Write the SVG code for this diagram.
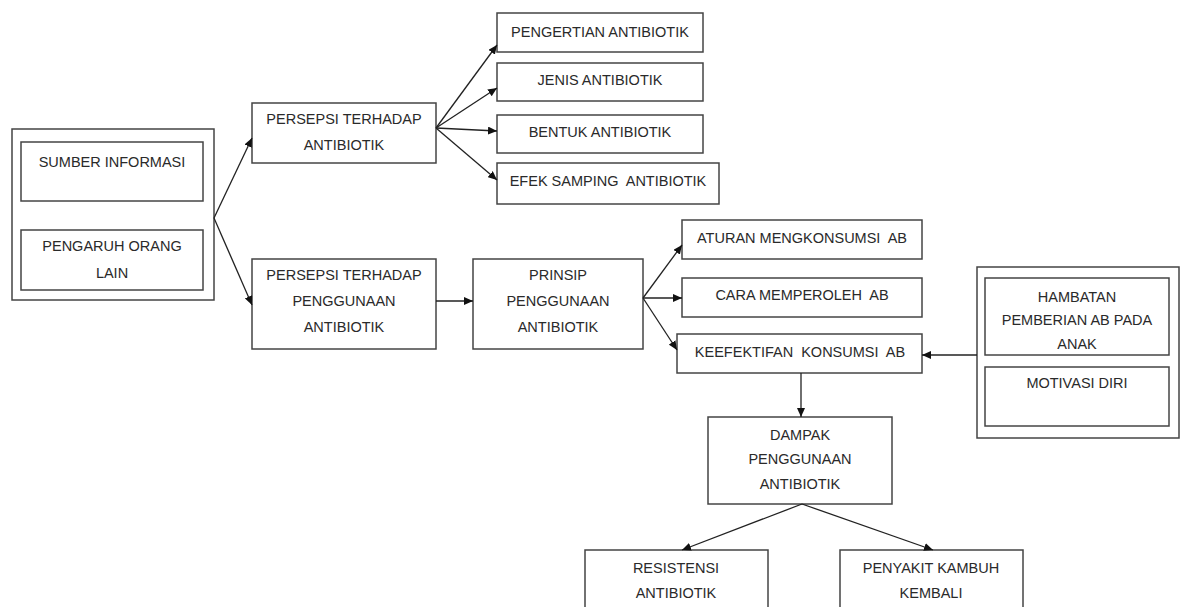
<svg xmlns="http://www.w3.org/2000/svg" width="1184" height="607" viewBox="0 0 1184 607">
<style>
.box{fill:#fff;stroke:#444;stroke-width:1.5}
.t{font-family:"Liberation Sans",Arial,sans-serif;font-size:14.5px;fill:#2a2a2a;text-anchor:middle;white-space:pre}
.c{stroke:#222;stroke-width:1.3;fill:none;marker-end:url(#ah)}
</style>
<defs>
<marker id="ah" markerUnits="userSpaceOnUse" markerWidth="10" markerHeight="8" refX="9" refY="4" orient="auto">
<path d="M0,0 L9,4 L0,8 Z" fill="#111"/>
</marker>
</defs>
<rect width="1184" height="607" fill="#fff"/>
<g id="sources">
<rect class="box" x="12" y="129" width="202" height="171"/>
<g id="sumber"><rect class="box" x="21" y="142" width="182" height="59"/><text class="t" x="112" y="167">SUMBER INFORMASI</text></g>
<g id="pengaruh"><rect class="box" x="21" y="230" width="182" height="60"/><text class="t" x="112" y="251">PENGARUH ORANG</text><text class="t" x="112" y="278">LAIN</text></g>
</g>
<g id="persepsi-ab"><rect class="box" x="252" y="103" width="184" height="60"/><text class="t" x="344" y="124">PERSEPSI TERHADAP</text><text class="t" x="344" y="150">ANTIBIOTIK</text></g>
<g id="pengertian"><rect class="box" x="497" y="13" width="206" height="39"/><text class="t" x="600" y="37">PENGERTIAN ANTIBIOTIK</text></g>
<g id="jenis"><rect class="box" x="497" y="63" width="206" height="38"/><text class="t" x="600" y="85">JENIS ANTIBIOTIK</text></g>
<g id="bentuk"><rect class="box" x="497" y="115" width="206" height="38"/><text class="t" x="600" y="137">BENTUK ANTIBIOTIK</text></g>
<g id="efek"><rect class="box" x="497" y="163" width="222" height="41"/><text class="t" x="608" y="186">EFEK SAMPING  ANTIBIOTIK</text></g>
<g id="persepsi-penggunaan"><rect class="box" x="252" y="259" width="184" height="90"/><text class="t" x="344" y="280">PERSEPSI TERHADAP</text><text class="t" x="344" y="306">PENGGUNAAN</text><text class="t" x="344" y="332">ANTIBIOTIK</text></g>
<g id="prinsip"><rect class="box" x="473" y="259" width="170" height="90"/><text class="t" x="558" y="280">PRINSIP</text><text class="t" x="558" y="306">PENGGUNAAN</text><text class="t" x="558" y="332">ANTIBIOTIK</text></g>
<g id="aturan"><rect class="box" x="682" y="220" width="240" height="39"/><text class="t" x="802" y="243">ATURAN MENGKONSUMSI  AB</text></g>
<g id="cara"><rect class="box" x="682" y="278" width="240" height="39"/><text class="t" x="802" y="300">CARA MEMPEROLEH  AB</text></g>
<g id="keefektifan"><rect class="box" x="677" y="334" width="245" height="39"/><text class="t" x="800" y="357">KEEFEKTIFAN  KONSUMSI  AB</text></g>
<g id="factors">
<rect class="box" x="977" y="267" width="202" height="171"/>
<g id="hambatan"><rect class="box" x="985" y="278" width="184" height="77"/><text class="t" x="1077" y="302">HAMBATAN</text><text class="t" x="1077" y="325">PEMBERIAN AB PADA</text><text class="t" x="1077" y="349">ANAK</text></g>
<g id="motivasi"><rect class="box" x="985" y="367" width="184" height="59"/><text class="t" x="1077" y="388">MOTIVASI DIRI</text></g>
</g>
<g id="dampak"><rect class="box" x="708" y="417" width="184" height="87"/><text class="t" x="800" y="440">DAMPAK</text><text class="t" x="800" y="464">PENGGUNAAN</text><text class="t" x="800" y="489">ANTIBIOTIK</text></g>
<g id="resistensi"><rect class="box" x="585" y="550" width="183" height="70"/><text class="t" x="676" y="573">RESISTENSI</text><text class="t" x="676" y="598">ANTIBIOTIK</text></g>
<g id="penyakit"><rect class="box" x="840" y="550" width="183" height="70"/><text class="t" x="931" y="573">PENYAKIT KAMBUH</text><text class="t" x="931" y="598">KEMBALI</text></g>
<g id="connectors">
<path class="c" d="M214,218 L252,138"/>
<path class="c" d="M214,218 L252,305"/>
<path class="c" d="M436,128 L497,45"/>
<path class="c" d="M436,128 L497,88"/>
<path class="c" d="M436,128 L497,131"/>
<path class="c" d="M436,128 L497,180"/>
<path class="c" d="M436,301 L473,301"/>
<path class="c" d="M643,298 L682,245"/>
<path class="c" d="M643,298 L682,298"/>
<path class="c" d="M643,298 L677,350"/>
<path class="c" d="M977,355 L922,355"/>
<path class="c" d="M801,373 L801,417"/>
<path class="c" d="M802,504 L682,550"/>
<path class="c" d="M802,504 L933,550"/>
</g>
</svg>
